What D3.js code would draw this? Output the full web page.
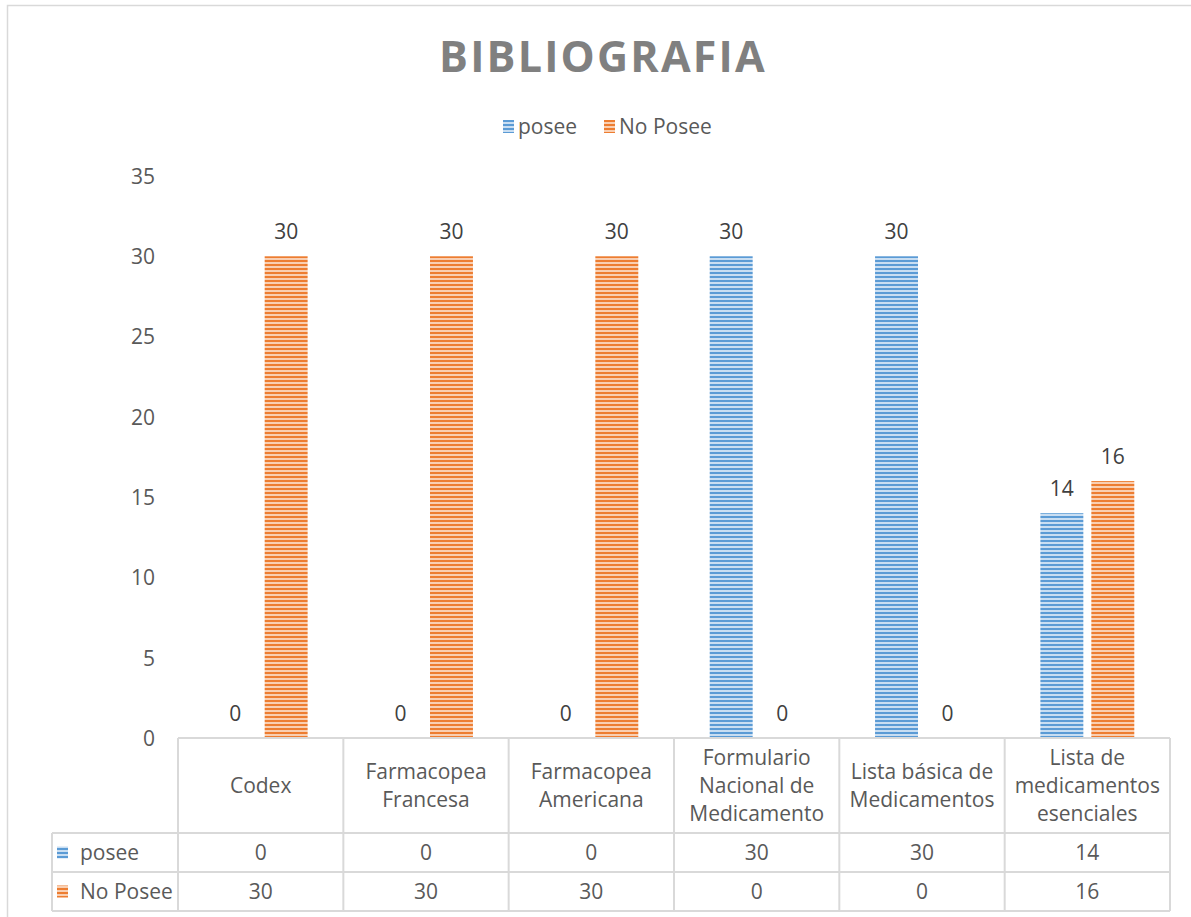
<!DOCTYPE html>
<html><head><meta charset="utf-8">
<script src="https://cdn.jsdelivr.net/npm/d3@7/dist/d3.min.js"></script>
<style>
html,body{margin:0;padding:0;background:#fff;}
svg text{font-family:"Open Sans","Noto Sans",sans-serif;}
</style></head>
<body><svg id="c" width="1191" height="917"></svg>
<script>
const title = "BIBLIOGRAFIA";
const categories = ["Codex","Farmacopea Francesa","Farmacopea Americana","Formulario Nacional de Medicamento","Lista básica de Medicamentos","Lista de medicamentos esenciales"];
const seriesNames = ["posee","No Posee"];
const poseeValues = [0,0,0,30,30,14];
const noPoseeValues = [30,30,30,0,0,16];
const yTicks = [0,5,10,15,20,25,30,35];
const seriesValues = [poseeValues, noPoseeValues];

const colors = {dark:["#5B9BD5","#ED7D31"], light:["#c9def2","#f9cfb2"]};
const textCol = "#595959", gridCol = "#d9d9d9";
const fs = 21;

const svg = d3.select("#c");
const defs = svg.append("defs");
seriesNames.forEach((s,i)=>{
  const p = defs.append("pattern").attr("id","pat"+i).attr("patternUnits","userSpaceOnUse")
    .attr("width",4).attr("height",4);
  p.append("rect").attr("width",4).attr("height",4).attr("fill",colors.light[i]);
  p.append("rect").attr("width",4).attr("height",2).attr("fill",colors.dark[i]);
});

// outer border (top & left visible)
svg.append("path").attr("d","M7.5,917 L7.5,5.5 L1191,5.5").attr("fill","none").attr("stroke",gridCol).attr("stroke-width",1.5);

svg.append("text").attr("x",603).attr("y",72).attr("text-anchor","middle")
  .attr("font-size",43).attr("font-weight","bold").attr("letter-spacing",2.2)
  .attr("fill","#808080").text(title);

// legend
const legX = [503,604];
seriesNames.forEach((s,i)=>{
  svg.append("rect").attr("x",legX[i]).attr("y",120).attr("width",11).attr("height",13).attr("fill","url(#pat"+i+")");
  svg.append("text").attr("x",legX[i]+15).attr("y",134).attr("font-size",fs).attr("fill",textCol).text(s);
});

const plotL = 178, plotR = 1170, y0 = 738, yTop = 176;
const x0 = d3.scaleBand().domain(categories).range([plotL,plotR]).padding(0);
const bw0 = x0.bandwidth();
const x1 = d3.scaleBand().domain(seriesNames).range([bw0*0.216,bw0*0.784]).paddingInner(0.157).paddingOuter(0);
const y = d3.scaleLinear().domain([0,35]).range([y0,yTop]);

const yAxis = d3.axisLeft(y).tickValues(yTicks).tickSize(0).tickPadding(0);
const ga = svg.append("g").attr("transform","translate(155,0)").call(yAxis);
ga.select(".domain").remove();
ga.selectAll("text").attr("font-size",fs).attr("fill",textCol).attr("font-family","'Open Sans',sans-serif").attr("dy","0.35em");

// bars
const data = [];
categories.forEach((c,ci)=>seriesNames.forEach((s,si)=>data.push({c,s,si,v:seriesValues[si][ci]})));
svg.append("g").selectAll("rect").data(data).join("rect")
  .attr("x",d=>x0(d.c)+x1(d.s)).attr("width",x1.bandwidth())
  .attr("y",d=>y(d.v)).attr("height",d=>y0-y(d.v))
  .attr("fill",d=>"url(#pat"+d.si+")");
svg.append("g").selectAll("text").data(data).join("text")
  .attr("x",d=>x0(d.c)+x1(d.s)+x1.bandwidth()/2).attr("y",d=>y(d.v)-17)
  .attr("text-anchor","middle").attr("font-size",fs).attr("fill","#404040").text(d=>d.v);

// data table
const tLeft = 52, rowH = [y0,833,872,911];
const g = svg.append("g").attr("stroke",gridCol).attr("stroke-width",2).attr("fill","none");
g.append("line").attr("x1",plotL).attr("x2",plotR).attr("y1",rowH[0]).attr("y2",rowH[0]);
[1,2,3].forEach(r=>g.append("line").attr("x1",tLeft).attr("x2",plotR).attr("y1",rowH[r]).attr("y2",rowH[r]));
g.append("line").attr("x1",tLeft).attr("x2",tLeft).attr("y1",rowH[1]).attr("y2",rowH[3]);
categories.forEach(c=>g.append("line").attr("x1",x0(c)).attr("x2",x0(c)).attr("y1",rowH[0]).attr("y2",rowH[3]));
g.append("line").attr("x1",plotR).attr("x2",plotR).attr("y1",rowH[0]).attr("y2",rowH[3]);

// header labels with wrapping
categories.forEach(c=>{
  const words = c.split(" ");
  const lines = [];
  const tmp = svg.append("text").attr("font-size",fs);
  let cur = "";
  words.forEach(w=>{
    const t = cur ? cur+" "+w : w;
    tmp.text(t);
    if (tmp.node().getComputedTextLength() > 158 && cur) { lines.push(cur); cur = w; } else cur = t;
  });
  lines.push(cur);
  tmp.remove();
  const cy = (rowH[0]+rowH[1])/2, lh = 28;
  const t = svg.append("text").attr("text-anchor","middle").attr("font-size",fs).attr("fill",textCol);
  lines.forEach((l,i)=>t.append("tspan").attr("x",x0(c)+bw0/2)
    .attr("y",cy+(i-(lines.length-1)/2)*lh).attr("dy","0.35em").text(l));
});
// table values
seriesNames.forEach((s,si)=>{
  const cy = (rowH[si+1]+rowH[si+2])/2;
  svg.append("rect").attr("x",57).attr("y",cy-6).attr("width",11).attr("height",12).attr("fill","url(#pat"+si+")");
  svg.append("text").attr("x",80).attr("y",cy).attr("dy","0.35em").attr("font-size",fs).attr("fill",textCol).text(s);
  categories.forEach((c,ci)=>svg.append("text").attr("x",x0(c)+bw0/2).attr("y",cy).attr("dy","0.35em")
    .attr("text-anchor","middle").attr("font-size",fs).attr("fill",textCol).text(seriesValues[si][ci]));
});
</script></body></html>
